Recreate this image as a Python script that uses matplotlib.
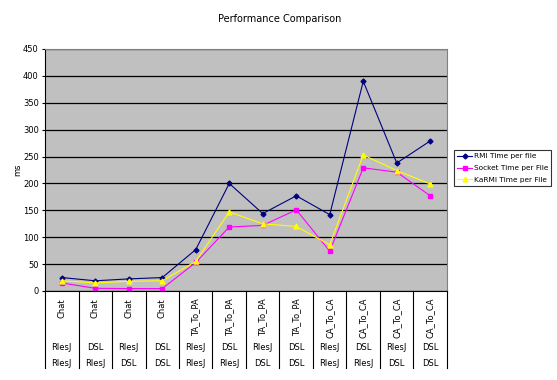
import matplotlib
matplotlib.use("Agg")
import matplotlib.pyplot as plt
import matplotlib.transforms as mtransforms

top_labels = ["Chat", "Chat", "Chat", "Chat", "TA_To_PA", "TA_To_PA", "TA_To_PA", "TA_To_PA",
              "CA_To_CA", "CA_To_CA", "CA_To_CA", "CA_To_CA"]
mid_labels = ["RlesJ", "DSL", "RlesJ", "DSL"] * 3
bot_labels = ["RlesJ", "RlesJ", "DSL", "DSL"] * 3

rmi = [25, 19, 22.5, 25, 77, 200, 144, 177, 142, 390, 238, 279]
socket = [15, 5, 4.5, 4.5, 53, 119, 122, 151, 74, 229, 221, 177]
karmi = [19, 15, 18, 19, 55, 147, 125, 120, 86, 253, 224, 199]

fig = plt.figure(figsize=(5.57, 3.8), dpi=100)
ax = fig.add_axes([45/557, 1-291/380, (447-45)/557, (291-49)/380])
ax.set_facecolor("#C0C0C0")
n = len(rmi)
x = list(range(n))
ax.plot(x, rmi, color="#000080", marker="D", markersize=2.5, lw=0.8, label="RMI Time per file")
ax.plot(x, socket, color="#FF00FF", marker="s", markersize=2.8, lw=0.8, label="Socket Time per File")
ax.plot(x, karmi, color="#FFFF00", marker="^", markersize=3.5, lw=0.8, label="KaRMI Time per File")

ax.set_xlim(-0.5, n-0.5)
ax.set_ylim(0, 450)
ax.set_yticks(range(0, 451, 50))
ax.yaxis.grid(True, color="black", lw=0.9)
ax.set_axisbelow(True)
ax.tick_params(axis="y", labelsize=6, length=2.5, width=0.8, pad=2)
ax.set_xticks([])
for s in ["top", "right"]:
    ax.spines[s].set_color("#808080")
ax.spines["left"].set_color("black")
ax.spines["bottom"].set_color("black")
fig.text(18/557, 1-170/380, "ms", rotation=90, ha="center", va="center", fontsize=6)

trans = mtransforms.blended_transform_factory(ax.transData, fig.transFigure)
for i in range(n+1):
    ax.plot([i-0.5, i-0.5], [1-291/380, 1-368/380], transform=trans, color="black",
            lw=0.8, clip_on=False)
for i in range(n):
    ax.text(i, 1-298/380, top_labels[i], transform=trans, rotation=90, ha="center", va="top",
            fontsize=6)
    ax.text(i, 1-347/380, mid_labels[i], transform=trans, ha="center", va="center", fontsize=6)
    ax.text(i, 1-363/380, bot_labels[i], transform=trans, ha="center", va="center", fontsize=6)

fig.text(280/557, 1-19/380, "Performance Comparison", ha="center", va="center", fontsize=7)

leg = ax.legend(loc="upper left", bbox_to_anchor=(454/557, 1-150/380), bbox_transform=fig.transFigure,
                fontsize=5.3, frameon=True, fancybox=False, borderpad=0.45, handlelength=2.0,
                labelspacing=0.75, handletextpad=0.2, borderaxespad=0)
leg.get_frame().set_edgecolor("black")
leg.get_frame().set_linewidth(0.8)

fig.savefig("out.png", dpi=100)
